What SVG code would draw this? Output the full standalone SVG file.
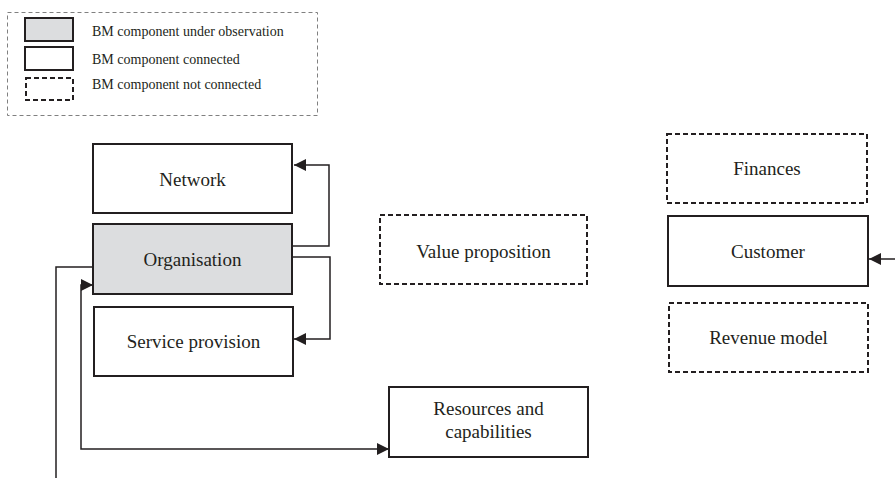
<svg xmlns="http://www.w3.org/2000/svg" width="895" height="478" viewBox="0 0 895 478">
<style>
  .box{fill:#fff;stroke:#231f20;stroke-width:2}
  .obs{fill:#dcdddf;stroke:#231f20;stroke-width:2}
  .dash{fill:#fff;stroke:#231f20;stroke-width:2;stroke-dasharray:5,3}
  .lbl{font-family:"Liberation Serif","Times New Roman",serif;font-size:19px;fill:#231f20;text-anchor:middle}
  .leg{font-family:"Liberation Serif","Times New Roman",serif;font-size:14px;fill:#231f20}
  .conn{fill:none;stroke:#231f20;stroke-width:1.5}
</style>
<defs>
  <marker id="ah" markerUnits="userSpaceOnUse" markerWidth="14" markerHeight="12" refX="12" refY="6" orient="auto-start-reverse">
    <path d="M0,0 L12,6 L0,12 Z" fill="#231f20"/>
  </marker>
</defs>
<rect width="895" height="478" fill="#fff"/>

<g id="legend">
  <rect x="7.5" y="12.5" width="310" height="103" fill="none" stroke="#808080" stroke-width="1" stroke-dasharray="4,3"/>
  <rect x="25" y="18" width="48" height="23" class="obs"/>
  <rect x="25" y="47" width="48" height="23" class="box"/>
  <rect x="26" y="78" width="47" height="22" class="dash"/>
  <text x="92" y="35.5" class="leg">BM component under observation</text>
  <text x="92" y="64" class="leg">BM component connected</text>
  <text x="92" y="89" class="leg">BM component not connected</text>
</g>

<g id="connectors">
  <path d="M292,246 H329 V165 H294" class="conn" marker-end="url(#ah)"/>
  <path d="M292,257 H330 V339 H294" class="conn" marker-end="url(#ah)"/>
  <path d="M93,267 H56 V478" class="conn"/>
  <path d="M93,285 H81 V449 H389" class="conn" marker-start="url(#ah)" marker-end="url(#ah)"/>
  <path d="M895,259 H869" class="conn" marker-end="url(#ah)"/>
</g>

<g id="network">
  <rect x="93" y="144" width="199" height="69" class="box"/>
  <text x="192.5" y="186" class="lbl">Network</text>
</g>
<g id="organisation">
  <rect x="93" y="224" width="199" height="70" class="obs"/>
  <text x="192.5" y="266" class="lbl">Organisation</text>
</g>
<g id="service-provision">
  <rect x="94" y="307" width="199" height="69" class="box"/>
  <text x="193.5" y="348" class="lbl">Service provision</text>
</g>
<g id="value-proposition">
  <rect x="380" y="215" width="207" height="69" class="dash"/>
  <text x="483.5" y="258" class="lbl">Value proposition</text>
</g>
<g id="resources">
  <rect x="389" y="387" width="199" height="70" class="box"/>
  <text x="488.5" y="415" class="lbl">Resources and</text>
  <text x="488.5" y="438" class="lbl">capabilities</text>
</g>
<g id="finances">
  <rect x="667" y="134" width="200" height="69" class="dash"/>
  <text x="767" y="175" class="lbl">Finances</text>
</g>
<g id="customer">
  <rect x="668" y="216" width="200" height="70" class="box"/>
  <text x="768" y="258" class="lbl">Customer</text>
</g>
<g id="revenue-model">
  <rect x="669" y="303" width="199" height="69" class="dash"/>
  <text x="768.5" y="344" class="lbl">Revenue model</text>
</g>
</svg>
